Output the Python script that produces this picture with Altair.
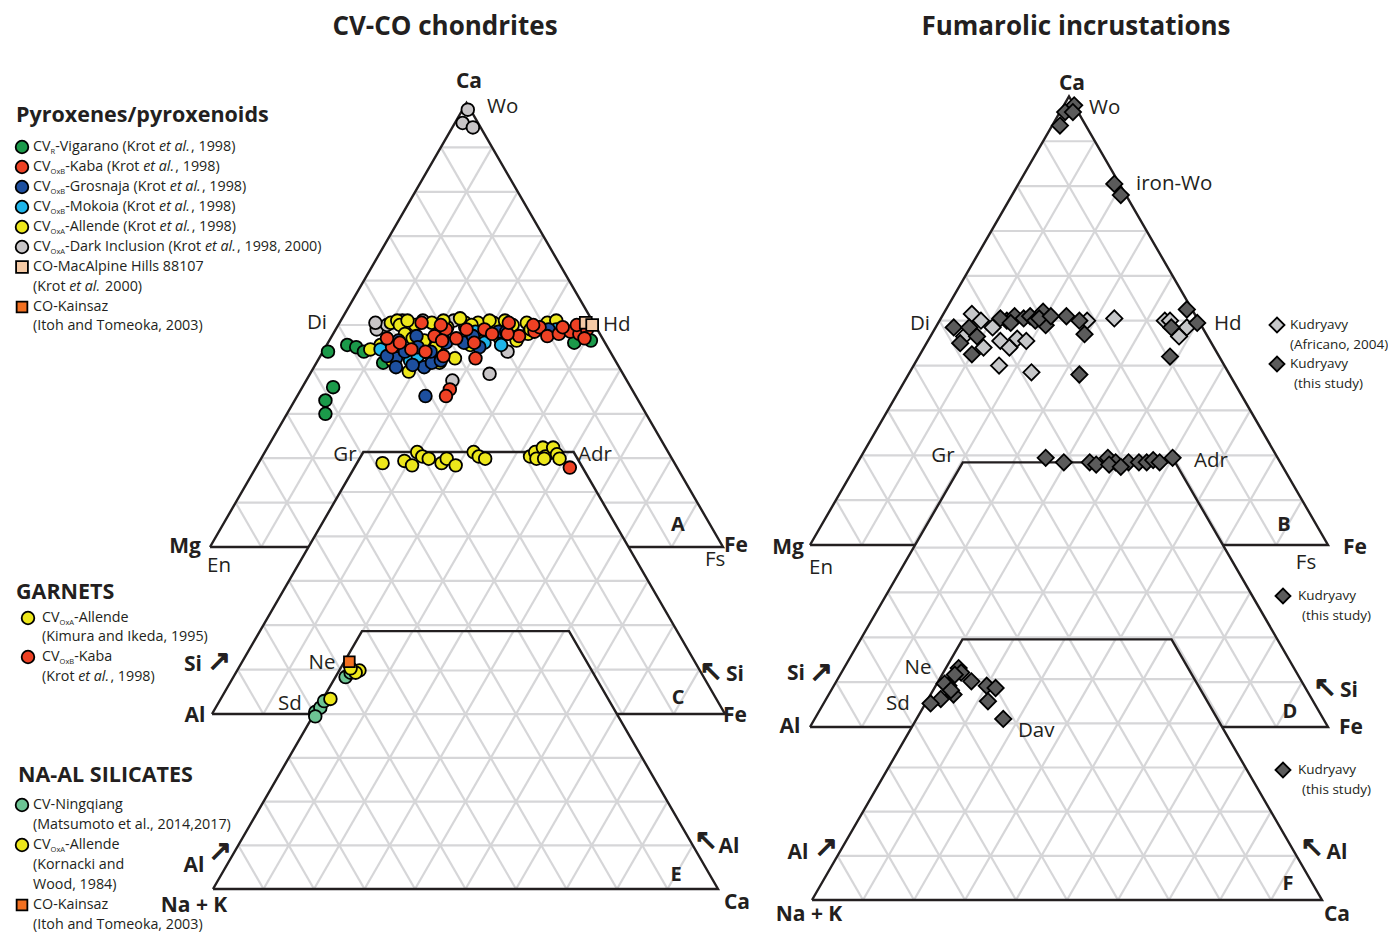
import altair as alt
import pandas as pd

# ======================= DATA =======================
# Triangle A - pyroxenes/pyroxenoids of CV-CO chondrites: Ca (Wo %) and Fe (Fs %); Mg = rest
vig_ca = [44, 45.5, 45, 44, 41.5, 36, 33, 30, 46, 46.5]
vig_fe = [1, 4, 6, 8, 13, 6, 6, 7.5, 48, 51]
dkinc_ca = [98.5, 95.5, 94.5, 49, 50, 51, 51, 44, 39, 37.5, 50, 50.5, 51, 49.5]
dkinc_fe = [1, 1.5, 4, 8, 9.5, 16, 22, 36, 35, 28.5, 30.5, 7, 12, 25]
allpx_ca = [50.5, 51, 50, 50, 50.5, 49.5, 50.5, 50.5, 50.5, 49, 50, 50.5, 50.5, 45.5, 45,
            48, 39.5, 45, 41.5, 42.5, 45.5, 47.5, 46.5, 48, 49.5, 42, 46.5, 48.5, 44.5,
            51, 51, 51.5, 50, 51, 51, 49, 51, 47, 44, 43.5, 47]
allpx_fe = [10, 11, 12, 15, 18, 21.5, 24.5, 27, 30, 33, 34, 36.5, 40.5, 10.5, 12,
            14, 19, 21.5, 24, 26.5, 28, 29.5, 36.5, 38, 43, 14.5, 18.5, 20.5, 9,
            13, 20, 23, 26, 29, 32, 38, 42, 16, 14, 21, 33]
mok_ca = [44.5, 42, 48.5, 46, 45.5, 49, 43]
mok_fe = [11, 18, 27.5, 30.5, 34, 43, 19]
gros_ca = [47.5, 45, 42.5, 40.5, 40.5, 41.5, 42, 46, 47.5, 48.5, 48.5, 45, 34, 46.5, 49, 44, 41,
           44, 43, 46]
gros_fe = [16.5, 18, 15, 16, 21.5, 22.5, 24, 26.5, 27.5, 32, 33.5, 30, 25, 13.5, 41.5, 16, 19,
           21, 13, 23]
kaba_ca = [45, 46, 47.5, 49, 47, 49, 46, 49, 48, 44, 43, 42.5, 47.5, 48.5, 49.5, 47.5, 48,
           48.5, 48, 49, 47, 35.5, 34, 48, 47, 50.5, 50, 50.5, 50, 49.5, 50, 44.5, 46.5]
kaba_fe = [13, 14, 20, 21.5, 24.5, 25.5, 28.5, 29, 31, 20, 24, 30.5, 36.5, 39, 39.5, 42, 44,
           46, 48, 49, 49.5, 29, 29, 34, 11, 16, 20, 33, 38, 44, 46.5, 17, 22]
mac_ca = [50.5, 50]
mac_fe = [48, 49.5]

# Trapezoid C - garnets: top-corner (Ca) % and Fe %; Al/Si = rest
gt_all_top = [56.5, 57, 56, 59, 58, 57.5, 56.5, 57.5, 56, 59, 58, 57.5, 58, 59, 60, 58, 60,
              58.5, 57.5, 57.5, 57.5]
gt_all_fe = [5, 9, 11, 10.5, 12, 13.5, 16.5, 17, 19.5, 21.5, 23, 24.5, 33, 33.5, 34.5, 36,
             36.5, 38, 39, 34.5, 36]
gt_kaba_top = [55.5]
gt_kaba_fe = [42]

# Trapezoid E - Na-Al silicates: top-corner % and Ca %; Na+K = rest
ning_top = [48.5, 49.5, 40.5, 41.5, 43, 39.5]
ning_ca = [2, 2.5, 0, 0.5, 0.5, 0.5]
naal_all_top = [50, 49.5, 50.5, 43.5]
naal_all_ca = [4, 3.5, 2, 1.5]
kain_top = [52]
kain_ca = [1]

# Triangle B - fumarolic pyroxenes (Kudryavy): Ca % and Fe %
afr_ca = [51.5, 50, 48.5, 46.5, 44, 45.5, 44, 46, 45.5, 40, 38.5, 50, 50.5, 50, 48.5, 46.5, 50]
afr_fe = [5.5, 8, 11, 6.5, 11.5, 14, 16.5, 17, 19, 16.5, 23.5, 28.5, 33.5, 43.5, 48.5, 48, 44.5]
kud_ca = [98, 96.5, 93.5, 96.5, 80.5, 78, 48.5, 48.5, 42.5, 50, 51, 50.5, 51, 50, 52, 49, 51,
          50, 47, 38, 42, 52.5, 49.5, 48.5, 50.5, 45, 46.5, 49.5, 50.5, 51]
kud_fe = [2, 1, 1.5, 2.5, 18.5, 21, 3.5, 6.5, 10, 13, 14, 16, 17, 18.5, 19, 21, 24,
          27, 29.5, 33, 48.5, 46.5, 50, 45.5, 11.5, 6.5, 9, 14, 19, 21]
# Trapezoid D - fumarolic garnets
kud_gt_top = [60, 59, 59, 58.5, 60, 59, 59, 59, 59, 59.5, 60, 58.5, 58, 59]
kud_gt_fe = [15.5, 19.5, 24.5, 26, 27.5, 29.5, 32, 34, 35.5, 36.5, 40, 28.5, 31, 38]
# Trapezoid F - fumarolic Na-Al silicates
kud_na_top = [52.5, 51.5, 49.5, 48.5, 46.5, 45.5, 44.5, 48.5, 48, 45, 41, 49, 47.5, 51]
kud_na_ca = [2.5, 3.5, 6.5, 2.5, 4.5, 2.5, 1, 10, 12, 12, 17, 1.5, 3.5, 2.5]

# ======================= LAYOUT / STYLE =======================
W, H = 1380, 924
FRAMES = {
    "A": dict(xl=210, yb=547, L=513, H=444, cut=1.0),
    "C": dict(xl=212, yb=714, L=513, H=444, cut=0.59),
    "E": dict(xl=213, yb=889, L=505, H=437, cut=0.59),
    "B": dict(xl=810, yb=545, L=518, H=448.6, cut=1.0),
    "D": dict(xl=810, yb=727, L=518, H=448.6, cut=0.59),
    "F": dict(xl=812, yb=900, L=510, H=441.7, cut=0.59),
}
STY = {
    "vig": ("circle", "#1b9a4a", 160), "kaba": ("circle", "#ee4124", 160),
    "gros": ("circle", "#1d4f9f", 160), "mok": ("circle", "#1fb5ea", 160),
    "all": ("circle", "#ede71b", 160), "dk": ("circle", "#c8c5c7", 160),
    "mac": ("square", "#f5caa5", 140), "kain": ("square", "#f37021", 115),
    "ning": ("circle", "#6cc494", 160),
    "afr": ("diamond", "#c6c7c9", 265), "kud": ("diamond", "#5b5b5b", 265),
}
INK = "#231f20"
GRID = "#d6d6d8"
FONT = "Open Sans"

xs = alt.Scale(domain=[8, 8 + W], nice=False, zero=False)
ys = alt.Scale(domain=[8, 8 + H], nice=False, zero=False, reverse=True)
X = alt.X("x:Q", scale=xs, axis=None)
Y = alt.Y("y:Q", scale=ys, axis=None)


def tern(fr, t, r):
    f = FRAMES[fr]
    return f["xl"] + f["L"] * (r + t / 2.0), f["yb"] - f["H"] * t


def grid_df(fr):
    c = FRAMES[fr]["cut"]
    out = []
    for k in range(1, 10):
        v = k / 10.0
        if v < c - 1e-9:
            x1, y1 = tern(fr, v, 0)
            x2, y2 = tern(fr, v, 1 - v)
            out.append(dict(x=x1, y=y1, x2=x2, y2=y2))
        tt = min(1 - v, c)
        x1, y1 = tern(fr, 0, v)
        x2, y2 = tern(fr, tt, v)
        out.append(dict(x=x1, y=y1, x2=x2, y2=y2))
        x1, y1 = tern(fr, 0, 1 - v)
        x2, y2 = tern(fr, tt, 1 - v - tt)
        out.append(dict(x=x1, y=y1, x2=x2, y2=y2))
    return pd.DataFrame(out)


def outline_df(fr):
    c = FRAMES[fr]["cut"]
    pts = [(0, 0), (1, 0), (0, 1), (0, 0)] if c >= 1 else [(0, 0), (c, 0), (c, 1 - c), (0, 1), (0, 0)]
    rows = []
    for i, (t, r) in enumerate(pts):
        x, y = tern(fr, t, r)
        rows.append(dict(x=x, y=y, i=i))
    return pd.DataFrame(rows)


def fill_df(fr):
    c = FRAMES[fr]["cut"]
    xa, yb = tern(fr, 0, 0)
    xb, _ = tern(fr, 0, 1)
    xc, yt = tern(fr, c, 0)
    xd, _ = tern(fr, c, 1 - c)
    return pd.DataFrame([dict(y=yb, x=xa, x2=xb), dict(y=yt, x=xc, x2=xd)])


layers = []
for fr in ["A", "B", "C", "D", "E", "F"]:
    layers.append(alt.Chart(fill_df(fr)).mark_area(orient="horizontal", color="white", opacity=1)
                  .encode(y=Y, x=X, x2="x2:Q"))
    layers.append(alt.Chart(grid_df(fr)).mark_rule(color=GRID, strokeWidth=2.2)
                  .encode(x=X, y=Y, x2="x2:Q", y2="y2:Q"))
    layers.append(alt.Chart(outline_df(fr)).mark_line(color=INK, strokeWidth=2.4, strokeJoin="miter")
                  .encode(x=X, y=Y, order="i:Q"))

# ---------------- points ----------------
prow = []


def add(series, fr, tops, rights):
    shp, col, sz = STY[series]
    for t, r in zip(tops, rights):
        x, y = tern(fr, t / 100.0, r / 100.0)
        prow.append(dict(x=x, y=y, fill=col, shape=shp, size=sz))


add("dk", "A", dkinc_ca, dkinc_fe)
add("vig", "A", vig_ca, vig_fe)
add("all", "A", allpx_ca, allpx_fe)
add("mok", "A", mok_ca, mok_fe)
add("gros", "A", gros_ca, gros_fe)
add("kaba", "A", kaba_ca, kaba_fe)
add("mac", "A", mac_ca, mac_fe)
add("all", "C", gt_all_top, gt_all_fe)
add("kaba", "C", gt_kaba_top, gt_kaba_fe)
add("ning", "E", ning_top, ning_ca)
add("all", "E", naal_all_top, naal_all_ca)
add("kain", "E", kain_top, kain_ca)
add("afr", "B", afr_ca, afr_fe)
add("kud", "B", kud_ca, kud_fe)
add("kud", "D", kud_gt_top, kud_gt_fe)
add("kud", "F", kud_na_top, kud_na_ca)

# legend symbols (layout positions)
LEG_SYMS = [("vig", 22, 147), ("kaba", 22, 167), ("gros", 22, 187), ("mok", 22, 207),
            ("all", 22, 227), ("dk", 22, 247), ("mac", 22, 267), ("kain", 22, 307),
            ("all", 28, 618), ("kaba", 28, 657),
            ("ning", 22, 805), ("all", 22, 845), ("kain", 22, 905),
            ("afr", 1277, 325), ("kud", 1277, 364), ("kud", 1283, 596), ("kud", 1283, 770)]
for s, x, y in LEG_SYMS:
    shp, col, sz = STY[s]
    prow.append(dict(x=x, y=y, fill=col, shape=shp, size=sz * (0.85 if shp == "diamond" else 1.0)))

pts = pd.DataFrame(prow)
layers.append(alt.Chart(pts).mark_point(filled=True, stroke="black", strokeWidth=1.8, opacity=1)
              .encode(x=X, y=Y, fill=alt.Fill("fill:N", scale=None),
                      shape=alt.Shape("shape:N", scale=None), size=alt.Size("size:Q", scale=None)))

# ---------------- text ----------------
OS = {' ': 532, '(': 604, ')': 604, ',': 502, '-': 659, '.': 545, '/': 752, ':': 545,
      'A': 1296, 'B': 1327, 'C': 1292, 'D': 1493, 'E': 1139, 'F': 1057, 'G': 1491, 'H': 1511,
      'I': 571, 'J': 547, 'K': 1257, 'L': 1063, 'M': 1849, 'N': 1544, 'O': 1595, 'P': 1233,
      'Q': 1595, 'R': 1266, 'S': 1124, 'T': 1134, 'U': 1511, 'V': 1225, 'W': 1903, 'X': 1171,
      'Y': 1137, 'Z': 1165, 'a': 1139, 'b': 1255, 'c': 975, 'd': 1255, 'e': 1149, 'f': 694,
      'g': 1122, 'h': 1257, 'i': 518, 'j': 518, 'k': 1075, 'l': 518, 'm': 1905, 'n': 1257,
      'o': 1237, 'p': 1255, 'q': 1255, 'r': 836, 's': 977, 't': 723, 'u': 1257, 'v': 1026,
      'w': 1593, 'x': 1073, 'y': 1028, 'z': 977}
for d in "0123456789":
    OS[d] = 1171


def tw(s, size):
    return sum(OS.get(ch, 1100) for ch in s) / 2048.0 * size


LFS = 14.3
RFS = 13.5
SFS = 7.5
EA = [("i", "et al.")]
LEG_LINES = [
    (33, 147, LFS, [("n", "CV"), ("s", "R"), ("n", "-Vigarano (Krot ")] + EA + [("n", ", 1998)")]),
    (33, 167, LFS, [("n", "CV"), ("s", "OxB"), ("n", "-Kaba (Krot ")] + EA + [("n", ", 1998)")]),
    (33, 187, LFS, [("n", "CV"), ("s", "OxB"), ("n", "-Grosnaja (Krot ")] + EA + [("n", ", 1998)")]),
    (33, 207, LFS, [("n", "CV"), ("s", "OxB"), ("n", "-Mokoia (Krot ")] + EA + [("n", ", 1998)")]),
    (33, 227, LFS, [("n", "CV"), ("s", "OxA"), ("n", "-Allende (Krot ")] + EA + [("n", ", 1998)")]),
    (33, 247, LFS, [("n", "CV"), ("s", "OxA"), ("n", "-Dark Inclusion (Krot ")] + EA + [("n", ", 1998, 2000)")]),
    (33, 267, LFS, [("n", "CO-MacAlpine Hills 88107")]),
    (33, 287, LFS, [("n", "(Krot ")] + EA + [("n", " 2000)")]),
    (33, 307, LFS, [("n", "CO-Kainsaz")]),
    (33, 326, LFS, [("n", "(Itoh and Tomeoka, 2003)")]),
    (42, 618, LFS, [("n", "CV"), ("s", "OxA"), ("n", "-Allende")]),
    (42, 637, LFS, [("n", "(Kimura and Ikeda, 1995)")]),
    (42, 657, LFS, [("n", "CV"), ("s", "OxB"), ("n", "-Kaba")]),
    (42, 677, LFS, [("n", "(Krot ")] + EA + [("n", ", 1998)")]),
    (33, 805, LFS, [("n", "CV-Ningqiang")]),
    (33, 825, LFS, [("n", "(Matsumoto et al., 2014,2017)")]),
    (33, 845, LFS, [("n", "CV"), ("s", "OxA"), ("n", "-Allende")]),
    (33, 865, LFS, [("n", "(Kornacki and")]),
    (33, 885, LFS, [("n", "Wood, 1984)")]),
    (33, 905, LFS, [("n", "CO-Kainsaz")]),
    (33, 925, LFS, [("n", "(Itoh and Tomeoka, 2003)")]),
    (1290, 325, RFS, [("n", "Kudryavy")]),
    (1290, 345, RFS, [("n", "(Africano, 2004)")]),
    (1290, 364, RFS, [("n", "Kudryavy")]),
    (1294, 384, RFS, [("n", "(this study)")]),
    (1298, 596, RFS, [("n", "Kudryavy")]),
    (1302, 616, RFS, [("n", "(this study)")]),
    (1298, 770, RFS, [("n", "Kudryavy")]),
    (1302, 790, RFS, [("n", "(this study)")]),
]

trow = []
for x0, y0, fs, segs in LEG_LINES:
    cur = x0
    for kind, s in segs:
        size = SFS if kind == "s" else fs
        lead = len(s) - len(s.lstrip(" "))
        trow.append(dict(x=cur + tw(" " * lead, size), y=y0 + (4.5 if kind == "s" else 0),
                         text=s.strip(" "), size=size, kind=kind, align="left"))
        cur += tw(s, size)

LABELS = [
    ("CV-CO chondrites", 445, 27, "b", 26, "center"),
    ("Fumarolic incrustations", 1076, 27, "b", 26, "center"),
    ("Pyroxenes/pyroxenoids", 16, 116, "b", 21.5, "left"),
    ("GARNETS", 16, 593, "b", 21.5, "left"),
    ("NA-AL SILICATES", 18, 776, "b", 21.5, "left"),
    # left panel
    ("Ca", 469, 82, "b", 21, "center"), ("Wo", 487, 107, "n", 20.5, "left"),
    ("Di", 317, 323, "n", 20.5, "center"), ("Hd", 603, 325, "n", 20.5, "left"),
    ("Gr", 345, 455, "n", 20.5, "center"), ("Adr", 578, 455, "n", 20.5, "left"),
    ("Mg", 185, 547, "b", 21, "center"), ("En", 207, 566, "n", 20.5, "left"),
    ("A", 678, 525, "b", 20, "center"), ("Fe", 724, 546, "b", 21, "left"),
    ("Fs", 705, 560, "n", 20.5, "left"),
    ("Si", 193, 665, "b", 21, "center"), ("\u2197", 219, 662, "a", 28, "center"),
    ("Al", 195, 716, "b", 21, "center"), ("Ne", 322, 663, "n", 20.5, "center"),
    ("Sd", 290, 704, "n", 20.5, "center"), ("C", 678, 698, "b", 20, "center"),
    ("\u2196", 711, 672, "a", 28, "center"), ("Si", 735, 675, "b", 21, "center"),
    ("Fe", 723, 716, "b", 21, "left"),
    ("Al", 194, 866, "b", 21, "center"), ("\u2197", 220, 852, "a", 28, "center"),
    ("\u2196", 706, 841, "a", 28, "center"), ("Al", 729, 847, "b", 21, "center"),
    ("E", 676, 875, "b", 20, "center"), ("Na + K", 194, 906, "b", 21, "center"),
    ("Ca", 737, 903, "b", 21, "center"),
    # right panel
    ("Ca", 1072, 84, "b", 21, "center"), ("Wo", 1089, 108, "n", 20.5, "left"),
    ("iron-Wo", 1136, 184, "n", 20.5, "left"), ("Di", 920, 324, "n", 20.5, "center"),
    ("Hd", 1214, 324, "n", 20.5, "left"), ("Gr", 943, 456, "n", 20.5, "center"),
    ("Adr", 1194, 461, "n", 20.5, "left"), ("Mg", 788, 548, "b", 21, "center"),
    ("En", 809, 568, "n", 20.5, "left"), ("B", 1284, 525, "b", 20, "center"),
    ("Fe", 1355, 548, "b", 21, "center"), ("Fs", 1306, 563, "n", 20.5, "center"),
    ("Si", 796, 674, "b", 21, "center"), ("\u2197", 821, 673, "a", 28, "center"),
    ("Al", 790, 727, "b", 21, "center"), ("Ne", 918, 668, "n", 20.5, "center"),
    ("Sd", 898, 704, "n", 20.5, "center"), ("Dav", 1018, 731, "n", 20.5, "left"),
    ("D", 1290, 712, "b", 20, "center"),
    ("\u2196", 1325, 688, "a", 28, "center"), ("Si", 1349, 691, "b", 21, "center"),
    ("Fe", 1351, 728, "b", 21, "center"),
    ("Al", 798, 853, "b", 21, "center"), ("\u2197", 826, 848, "a", 28, "center"),
    ("\u2196", 1312, 848, "a", 28, "center"), ("Al", 1337, 853, "b", 21, "center"),
    ("F", 1288, 884, "b", 20, "center"), ("Na + K", 809, 915, "b", 21, "center"),
    ("Ca", 1337, 915, "b", 21, "center"),
]
for text, x, y, kind, size, align in LABELS:
    trow.append(dict(x=x, y=y, text=text, size=size, kind=kind, align=align))

tdf = pd.DataFrame(trow)
STYLE_OF = {"n": ("normal", "normal", FONT), "s": ("normal", "normal", FONT),
            "i": ("normal", "italic", FONT), "b": ("bold", "normal", FONT),
            "a": ("normal", "normal", "DejaVu Sans")}
for (kind, align), sub in tdf.groupby(["kind", "align"]):
    wgt, sty, fnt = STYLE_OF[kind]
    mk = dict(align=align, baseline="middle", font=fnt, fontWeight=wgt, fontStyle=sty, color=INK)
    if kind == "a":
        mk.update(stroke=INK, strokeWidth=1.2)
    layers.append(alt.Chart(sub).mark_text(**mk)
                  .encode(x=X, y=Y, text="text:N", size=alt.Size("size:Q", scale=None)))

chart = alt.layer(*layers).properties(
    width=W, height=H, padding=0, autosize=alt.AutoSizeParams(type="none")
).configure_view(stroke=None)

chart.save("out.html", embed_options={"renderer": "svg", "actions": False})
